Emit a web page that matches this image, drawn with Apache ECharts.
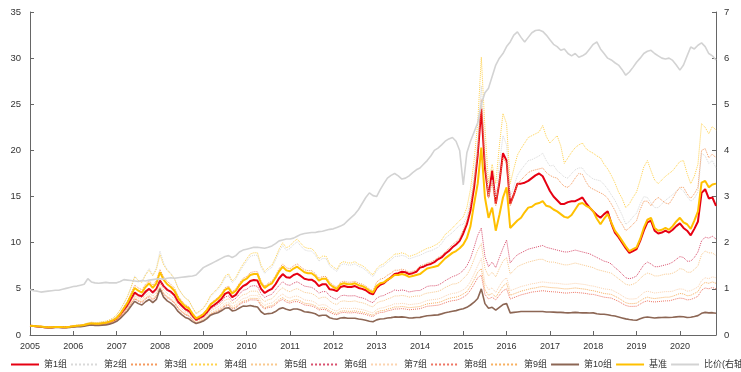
<!DOCTYPE html>
<html><head><meta charset="utf-8">
<script src="https://cdn.jsdelivr.net/npm/echarts@6/dist/echarts.min.js"></script>
<style>html,body{margin:0;padding:0;background:#fff}#c{width:741px;height:372px}</style>
</head><body><div id="c"></div>
<script>
// monthly observations starting Jan 2005
const startYear = 2005;
const seriesNames = ['第1组','第2组','第3组','第4组','第5组','第6组','第7组','第8组','第9组','第10组','基准','比价(右轴)'];
const yTicksLeft = [0,5,10,15,20,25,30,35];
const yTicksRight = [0,1,2,3,4,5,6,7];

const g1 = [
1.00,0.97,0.93,0.90,0.84,0.82,0.82,0.86,0.86,0.84,0.83,0.88,
0.93,0.97,0.99,1.05,1.16,1.21,1.17,1.17,1.22,1.27,1.38,1.52,
1.75,2.15,2.70,3.20,3.90,4.60,4.30,4.20,4.70,5.00,4.60,5.00,
5.90,5.30,4.90,4.70,4.30,3.60,3.20,2.80,2.60,2.10,1.65,1.85,
2.05,2.45,3.00,3.25,3.55,3.90,4.45,4.65,4.10,4.35,4.90,5.30,
5.50,5.85,5.95,5.90,5.00,4.55,4.80,5.00,5.50,6.15,6.60,6.25,
6.20,6.50,6.65,6.40,6.10,6.00,6.00,5.75,5.30,5.50,5.50,4.95,
4.90,4.75,5.20,5.30,5.20,5.20,5.30,5.10,5.00,4.85,4.55,4.40,
5.10,5.45,5.60,5.95,6.25,6.60,6.70,6.85,6.80,6.60,6.70,6.85,
7.30,7.40,7.60,7.70,7.90,8.20,8.40,8.80,9.10,9.50,9.80,10.2,
11.0,12.0,13.5,16.0,19.5,24.5,18.1,15.0,17.8,14.2,16.5,19.7,
18.9,14.2,15.2,16.4,16.4,16.5,16.7,17.0,17.3,17.5,17.2,16.4,
15.6,15.0,14.6,14.2,14.2,14.4,14.5,14.5,14.7,14.9,14.3,13.8,
13.4,13.0,12.7,13.1,13.4,12.1,11.1,10.6,10.0,9.4,8.9,9.1,
9.3,10.2,11.3,12.2,12.4,11.3,11.0,11.1,11.3,11.1,11.4,11.8,
12.1,11.6,11.3,10.8,11.5,12.3,15.4,15.8,14.8,14.9,14.0];

const g2 = [
1.00,0.98,0.95,0.93,0.88,0.86,0.86,0.90,0.90,0.88,0.88,0.93,
1.00,1.05,1.08,1.15,1.29,1.37,1.33,1.34,1.42,1.48,1.62,1.80,
2.15,2.70,3.40,4.15,5.15,6.40,5.90,5.80,6.60,7.20,6.50,7.30,
9.10,7.80,7.10,6.70,6.10,5.10,4.50,4.00,3.70,2.95,2.30,2.55,
2.84,3.40,4.16,4.54,4.92,5.42,6.18,6.43,5.67,6.05,6.81,7.44,
7.99,8.52,8.64,8.64,7.33,6.68,7.07,7.33,8.12,9.04,9.69,9.17,
9.37,9.80,10.1,9.64,9.23,9.10,9.10,8.69,8.01,8.28,8.28,7.47,
7.16,6.89,7.58,7.71,7.58,7.58,7.71,7.44,7.30,7.02,6.62,6.33,
6.95,7.33,7.47,7.86,8.12,8.52,8.52,8.64,8.52,8.25,8.38,8.52,
8.64,8.83,9.02,9.12,9.31,9.50,9.89,10.5,10.8,11.1,11.5,11.9,
12.0,12.9,14.6,17.3,21.0,27.0,20.3,15.0,16.8,14.9,18.5,21.6,
20.6,14.9,16.1,17.3,17.9,18.4,18.9,19.0,19.2,19.4,19.7,18.9,
18.3,18.4,17.8,17.5,17.1,17.0,17.5,17.9,18.1,18.1,17.5,17.2,
16.9,16.8,16.7,16.3,15.8,15.2,14.6,13.8,13.0,12.0,12.3,12.8,
13.2,14.2,15.0,14.9,14.3,13.8,13.8,14.2,14.6,14.9,15.2,15.6,
15.9,15.6,15.0,14.5,14.8,15.5,19.7,19.4,18.6,18.9,18.1];

const g3 = [
1.00,0.98,0.95,0.92,0.86,0.84,0.84,0.89,0.89,0.87,0.86,0.91,
0.98,1.02,1.04,1.11,1.24,1.30,1.26,1.26,1.33,1.38,1.51,1.67,
1.95,2.40,3.05,3.70,4.55,5.40,5.10,4.90,5.50,5.90,5.40,5.90,
7.10,6.30,5.80,5.50,5.10,4.25,3.70,3.30,3.05,2.40,1.90,2.10,
2.34,2.81,3.43,3.74,4.06,4.47,5.10,5.30,4.68,4.99,5.62,6.14,
6.34,6.76,6.86,6.86,5.82,5.30,5.62,5.82,6.45,7.18,7.70,7.28,
7.18,7.49,7.70,7.38,7.07,6.97,6.97,6.66,6.14,6.34,6.34,5.72,
5.41,5.20,5.72,5.82,5.72,5.72,5.82,5.62,5.51,5.30,4.99,4.78,
5.72,6.05,6.16,6.48,6.70,7.02,7.02,7.13,7.02,6.80,6.91,7.02,
7.50,7.60,7.80,7.90,8.10,8.40,8.60,9.00,9.40,9.80,10.1,10.5,
11.4,12.4,14.0,16.5,19.8,25.5,18.5,14.8,16.5,14.0,16.8,19.2,
18.6,14.0,15.2,16.3,16.8,17.2,17.6,17.8,17.9,18.0,18.1,17.6,
17.3,17.1,17.0,16.5,16.1,16.0,16.4,17.0,17.5,17.4,16.6,16.0,
15.8,15.6,15.4,15.2,14.8,14.2,13.5,12.6,12.0,11.3,11.6,12.0,
12.4,13.6,14.5,14.5,14.0,14.6,14.9,14.6,14.3,14.2,14.8,15.5,
16.0,16.0,15.3,14.8,15.3,16.0,20.0,20.2,19.2,19.6,19.2];

const g4 = [
1.00,0.98,0.95,0.93,0.88,0.86,0.86,0.91,0.91,0.89,0.89,0.94,
1.02,1.07,1.10,1.17,1.31,1.39,1.35,1.36,1.44,1.50,1.65,1.84,
2.20,2.75,3.45,4.20,5.20,6.30,5.90,5.70,6.50,7.00,6.40,7.10,
8.70,7.60,7.00,6.60,6.10,5.10,4.50,4.00,3.75,3.00,2.35,2.60,
2.93,3.51,4.29,4.68,5.07,5.59,6.37,6.63,5.85,6.24,7.02,7.67,
8.24,8.78,8.91,8.91,7.56,6.89,7.29,7.56,8.37,9.32,9.99,9.45,
9.66,10.1,10.4,9.94,9.52,9.38,9.38,8.96,8.26,8.54,8.54,7.70,
7.38,7.10,7.81,7.95,7.81,7.81,7.95,7.67,7.53,7.24,6.82,6.53,
7.16,7.56,7.70,8.10,8.37,8.78,8.78,8.91,8.78,8.51,8.64,8.78,
9.00,9.20,9.40,9.50,9.70,9.90,10.3,10.9,11.2,11.6,12.0,12.4,
12.8,13.8,15.8,18.9,23.0,30.1,22.5,16.5,18.5,16.4,20.5,24.0,
22.9,16.4,18.0,19.5,20.2,20.8,21.4,21.6,21.8,22.0,22.7,21.5,
20.8,21.2,21.6,20.5,18.6,19.2,19.8,20.3,20.6,20.8,20.2,19.9,
19.7,19.4,19.2,18.5,18.0,17.3,16.5,15.5,14.8,13.8,14.2,14.9,
15.5,16.8,18.2,18.9,17.8,16.8,16.4,16.8,17.2,17.5,17.8,18.3,
18.8,18.9,17.5,16.4,17.2,18.5,22.9,22.5,21.8,22.6,22.2];

const g5 = [
1.00,0.97,0.94,0.91,0.85,0.83,0.83,0.86,0.86,0.84,0.84,0.88,
0.92,0.96,0.98,1.03,1.13,1.18,1.14,1.14,1.19,1.23,1.34,1.47,
1.68,2.05,2.52,3.00,3.65,4.25,4.00,3.85,4.30,4.60,4.20,4.60,
5.55,4.90,4.50,4.25,3.90,3.25,2.85,2.50,2.35,1.85,1.48,1.63,
1.80,2.16,2.61,2.84,3.04,3.35,3.77,3.93,3.42,3.60,4.05,4.37,
4.45,4.75,4.75,4.75,3.98,3.62,3.83,3.92,4.34,4.83,5.11,4.83,
4.69,4.90,5.03,4.83,4.62,4.56,4.49,4.29,3.95,4.09,4.09,3.69,
3.43,3.30,3.63,3.70,3.63,3.63,3.70,3.56,3.50,3.37,3.17,3.04,
3.45,3.64,3.71,3.90,4.03,4.23,4.23,4.29,4.23,4.10,4.16,4.23,
4.22,4.42,4.54,4.60,4.66,4.73,4.90,5.15,5.33,5.52,5.55,5.73,
6.10,6.50,7.20,8.20,9.20,9.90,7.20,6.40,6.80,6.30,7.20,8.00,
8.40,6.60,7.00,7.40,7.60,7.75,7.90,8.00,8.10,8.20,8.20,8.00,
7.90,7.90,7.80,7.70,7.60,7.60,7.70,7.80,7.70,7.60,7.50,7.40,
7.30,7.10,7.00,6.90,6.80,6.70,6.40,6.10,5.80,5.50,5.40,5.50,
5.70,6.10,6.50,6.70,6.60,6.40,6.40,6.50,6.60,6.60,6.70,6.90,
7.20,7.10,6.80,6.80,7.10,7.50,8.70,9.10,8.90,8.90,8.60];

const g6 = [
1.00,0.97,0.94,0.91,0.85,0.83,0.83,0.87,0.87,0.85,0.84,0.88,
0.93,0.97,0.99,1.04,1.15,1.20,1.16,1.16,1.21,1.26,1.37,1.51,
1.72,2.10,2.60,3.10,3.80,4.45,4.20,4.05,4.55,4.90,4.50,4.90,
5.90,5.25,4.80,4.55,4.20,3.50,3.05,2.70,2.50,1.95,1.55,1.72,
1.94,2.32,2.81,3.06,3.32,3.61,4.12,4.23,3.74,3.98,4.43,4.84,
4.94,5.27,5.35,5.28,4.48,4.08,4.27,4.42,4.90,5.38,5.77,5.46,
5.38,5.62,5.77,5.54,5.30,5.23,5.16,4.93,4.54,4.70,4.70,4.24,
4.00,3.85,4.24,4.31,4.24,4.24,4.26,4.10,4.03,3.88,3.65,3.50,
3.98,4.20,4.28,4.50,4.65,4.88,4.81,4.88,4.81,4.66,4.74,4.81,
4.82,5.04,5.26,5.33,5.33,5.40,5.61,5.89,6.11,6.32,6.46,6.67,
7.00,7.50,8.30,9.50,10.8,11.6,8.50,7.40,7.90,7.30,8.40,9.40,
10.3,7.80,8.30,8.70,8.90,9.10,9.30,9.40,9.50,9.60,9.70,9.50,
9.40,9.30,9.20,9.10,9.00,9.00,9.10,9.20,9.10,9.00,8.90,8.80,
8.60,8.40,8.20,8.00,7.90,7.70,7.30,7.00,6.60,6.20,6.10,6.20,
6.40,7.00,7.60,7.90,7.70,7.40,7.40,7.50,7.60,7.70,7.90,8.20,
8.50,8.40,8.00,8.00,8.40,9.00,10.2,10.6,10.5,10.7,10.4];

const g7 = [
1.00,0.97,0.94,0.91,0.85,0.83,0.82,0.86,0.86,0.84,0.83,0.87,
0.91,0.95,0.97,1.02,1.12,1.16,1.12,1.12,1.17,1.21,1.31,1.44,
1.65,2.00,2.45,2.90,3.50,4.05,3.80,3.65,4.05,4.35,3.95,4.35,
5.25,4.60,4.20,3.95,3.60,3.00,2.62,2.30,2.15,1.70,1.36,1.50,
1.67,2.00,2.41,2.59,2.81,3.05,3.43,3.57,3.11,3.26,3.67,3.95,
4.03,4.29,4.29,4.29,3.58,3.21,3.40,3.47,3.78,4.21,4.44,4.13,
4.00,4.18,4.22,4.05,3.81,3.75,3.69,3.52,3.19,3.29,3.23,2.92,
2.70,2.60,2.86,2.91,2.86,2.86,2.91,2.81,2.76,2.65,2.50,2.39,
2.76,2.91,2.96,3.12,3.22,3.38,3.38,3.43,3.38,3.28,3.33,3.38,
3.43,3.59,3.74,3.80,3.85,3.90,4.03,4.23,4.39,4.50,4.55,4.70,
4.90,5.20,5.80,6.60,7.50,8.30,5.60,4.90,5.10,4.60,5.30,5.90,
6.20,4.80,4.95,5.10,5.25,5.35,5.45,5.55,5.60,5.70,5.75,5.70,
5.65,5.62,5.60,5.55,5.50,5.50,5.55,5.60,5.55,5.50,5.45,5.35,
5.30,5.20,5.10,5.00,4.95,4.90,4.70,4.50,4.25,4.00,3.90,3.90,
3.95,4.25,4.60,4.75,4.65,4.55,4.60,4.65,4.70,4.70,4.75,4.90,
5.00,4.95,4.75,4.80,5.00,5.20,5.90,6.20,6.10,6.30,6.20];

const g8 = [
1.00,0.97,0.93,0.90,0.84,0.82,0.81,0.85,0.85,0.83,0.82,0.86,
0.90,0.93,0.95,1.00,1.10,1.14,1.10,1.10,1.14,1.18,1.27,1.40,
1.60,1.94,2.36,2.80,3.38,3.90,3.65,3.50,3.88,4.15,3.78,4.15,
5.05,4.42,4.04,3.79,3.45,2.87,2.50,2.20,2.05,1.62,1.29,1.42,
1.57,1.86,2.22,2.38,2.56,2.77,3.11,3.23,2.82,2.94,3.29,3.53,
3.59,3.81,3.80,3.79,3.15,2.82,2.98,3.03,3.30,3.66,3.85,3.57,
3.45,3.60,3.62,3.47,3.26,3.20,3.14,2.99,2.71,2.78,2.73,2.47,
2.28,2.19,2.40,2.45,2.40,2.40,2.44,2.36,2.31,2.22,2.09,2.00,
2.30,2.43,2.47,2.61,2.69,2.82,2.82,2.86,2.81,2.73,2.77,2.81,
2.85,2.98,3.11,3.15,3.19,3.23,3.34,3.50,3.63,3.72,3.77,3.89,
4.10,4.35,4.85,5.50,6.20,6.50,4.40,3.90,4.10,3.80,4.30,4.80,
5.00,3.90,4.05,4.20,4.35,4.45,4.55,4.65,4.70,4.75,4.80,4.75,
4.70,4.68,4.65,4.60,4.55,4.55,4.60,4.62,4.58,4.55,4.50,4.42,
4.40,4.30,4.20,4.10,4.05,4.00,3.82,3.65,3.42,3.20,3.10,3.10,
3.12,3.35,3.58,3.70,3.62,3.58,3.62,3.66,3.70,3.70,3.80,3.92,
4.00,3.95,3.80,3.85,4.00,4.20,4.85,5.10,5.00,5.15,5.00];

const g9 = [
1.00,0.97,0.94,0.91,0.85,0.82,0.82,0.86,0.85,0.83,0.83,0.86,
0.91,0.94,0.96,1.01,1.11,1.15,1.11,1.11,1.15,1.19,1.29,1.42,
1.62,1.97,2.40,2.85,3.45,3.98,3.72,3.58,3.98,4.25,3.87,4.25,
5.15,4.50,4.12,3.87,3.52,2.93,2.55,2.25,2.10,1.66,1.32,1.46,
1.62,1.92,2.29,2.46,2.65,2.87,3.22,3.35,2.92,3.05,3.42,3.67,
3.74,3.97,3.97,3.96,3.30,2.95,3.12,3.18,3.46,3.85,4.05,3.76,
3.64,3.80,3.83,3.67,3.45,3.39,3.33,3.17,2.88,2.96,2.91,2.63,
2.43,2.34,2.57,2.62,2.57,2.57,2.62,2.53,2.48,2.39,2.25,2.15,
2.48,2.62,2.66,2.81,2.90,3.04,3.04,3.09,3.04,2.95,3.00,3.04,
3.09,3.23,3.37,3.42,3.47,3.51,3.63,3.81,3.95,4.05,4.10,4.23,
4.45,4.70,5.30,6.00,6.80,7.20,4.90,4.30,4.50,4.10,4.70,5.30,
5.60,4.30,4.45,4.60,4.75,4.85,4.95,5.05,5.10,5.20,5.25,5.20,
5.15,5.12,5.10,5.05,5.00,5.00,5.05,5.10,5.05,5.00,4.95,4.85,
4.80,4.70,4.60,4.50,4.45,4.40,4.20,4.00,3.75,3.50,3.40,3.40,
3.45,3.70,3.95,4.10,4.00,3.95,4.00,4.05,4.10,4.10,4.20,4.35,
4.50,4.45,4.25,4.30,4.50,4.70,5.40,5.70,5.60,5.75,5.60];

const g10 = [
1.00,0.96,0.92,0.89,0.83,0.80,0.79,0.83,0.82,0.80,0.79,0.82,
0.86,0.89,0.90,0.95,1.04,1.08,1.04,1.03,1.07,1.10,1.18,1.30,
1.48,1.80,2.20,2.60,3.15,3.65,3.40,3.25,3.60,3.85,3.50,3.85,
5.00,4.10,3.70,3.45,3.10,2.55,2.20,1.90,1.75,1.45,1.25,1.35,
1.51,1.78,2.15,2.30,2.42,2.62,2.89,2.96,2.61,2.69,2.92,3.13,
3.11,3.19,3.10,3.04,2.52,2.24,2.32,2.35,2.54,2.83,2.96,2.80,
2.69,2.81,2.81,2.70,2.52,2.48,2.41,2.30,2.07,2.14,2.14,1.87,
1.77,1.70,1.85,1.88,1.82,1.81,1.82,1.73,1.68,1.60,1.49,1.43,
1.64,1.74,1.76,1.84,1.88,1.96,1.94,1.96,1.92,1.84,1.86,1.89,
1.91,2.00,2.09,2.12,2.15,2.18,2.29,2.41,2.49,2.58,2.64,2.76,
2.85,3.00,3.25,3.55,3.95,5.00,3.40,2.90,3.00,2.70,3.00,3.30,
3.40,2.40,2.45,2.50,2.55,2.55,2.55,2.55,2.55,2.55,2.55,2.50,
2.50,2.48,2.45,2.45,2.42,2.40,2.42,2.45,2.42,2.40,2.40,2.38,
2.40,2.30,2.25,2.25,2.20,2.12,2.05,1.95,1.85,1.75,1.68,1.62,
1.60,1.75,1.90,1.95,1.90,1.85,1.88,1.90,1.92,1.90,1.92,1.96,
2.00,1.98,1.90,1.92,2.00,2.10,2.35,2.45,2.40,2.42,2.35];

const bench = [
1.00,0.98,0.95,0.92,0.86,0.84,0.84,0.88,0.88,0.86,0.85,0.90,
0.96,1.00,1.02,1.08,1.20,1.26,1.22,1.22,1.28,1.33,1.45,1.60,
1.85,2.30,2.90,3.50,4.30,5.10,4.80,4.60,5.20,5.60,5.10,5.60,
6.80,6.00,5.50,5.20,4.80,4.00,3.50,3.10,2.90,2.30,1.80,2.00,
2.25,2.70,3.30,3.60,3.90,4.30,4.90,5.10,4.50,4.80,5.40,5.90,
6.10,6.50,6.60,6.60,5.60,5.10,5.40,5.60,6.20,6.90,7.40,7.00,
6.90,7.20,7.40,7.10,6.80,6.70,6.70,6.40,5.90,6.10,6.10,5.50,
5.20,5.00,5.50,5.60,5.50,5.50,5.60,5.40,5.30,5.10,4.80,4.60,
5.30,5.60,5.70,6.00,6.20,6.50,6.50,6.60,6.50,6.30,6.40,6.50,
6.60,6.90,7.20,7.30,7.40,7.50,7.90,8.30,8.60,8.90,9.10,9.40,
9.80,10.5,11.8,14.2,16.4,20.3,14.9,12.7,13.8,11.3,13.0,14.9,
16.0,11.6,12.0,12.4,12.7,13.3,13.8,13.9,14.2,14.3,14.5,14.0,
13.9,13.6,13.4,13.1,12.8,12.7,13.0,13.6,14.2,14.3,14.0,13.8,
13.4,12.6,12.0,12.6,13.1,12.2,11.3,10.8,10.2,9.6,9.1,9.3,
9.5,10.4,11.6,12.5,12.7,11.6,11.3,11.4,11.6,11.4,11.8,12.3,
12.7,12.2,12.0,11.5,12.4,13.4,16.5,16.7,16.0,16.3,16.4];

// right axis
const ratio = [
0.98,0.96,0.95,0.93,0.94,0.95,0.96,0.97,0.97,0.99,1.01,1.03,
1.05,1.06,1.08,1.10,1.22,1.15,1.13,1.12,1.13,1.14,1.13,1.13,
1.13,1.16,1.20,1.19,1.18,1.17,1.16,1.18,1.17,1.19,1.20,1.21,
1.22,1.21,1.23,1.24,1.23,1.24,1.25,1.26,1.27,1.28,1.30,1.38,
1.46,1.50,1.54,1.58,1.62,1.66,1.70,1.72,1.68,1.72,1.80,1.84,
1.86,1.88,1.90,1.90,1.89,1.88,1.90,1.93,1.98,2.04,2.06,2.08,
2.08,2.10,2.14,2.18,2.20,2.21,2.22,2.22,2.24,2.25,2.27,2.29,
2.30,2.33,2.36,2.40,2.48,2.55,2.62,2.72,2.85,2.98,3.08,3.02,
3.00,3.15,3.28,3.40,3.46,3.50,3.45,3.38,3.40,3.45,3.52,3.58,
3.62,3.70,3.78,3.88,4.00,4.05,4.12,4.20,4.25,4.28,4.20,4.00,
3.25,3.95,4.20,4.40,4.60,5.00,5.25,5.35,5.60,5.85,6.00,6.10,
6.25,6.35,6.50,6.57,6.45,6.35,6.45,6.55,6.60,6.61,6.58,6.50,
6.40,6.30,6.25,6.17,6.20,6.10,6.05,6.10,6.02,6.05,6.10,6.20,
6.30,6.35,6.20,6.10,6.00,5.96,5.90,5.85,5.75,5.63,5.70,5.80,
5.91,6.00,6.10,6.15,6.17,6.10,6.05,6.00,5.98,6.00,5.95,5.85,
5.74,5.85,6.05,6.24,6.20,6.28,6.33,6.25,6.10,6.05,5.96];

const allData = [g1,g2,g3,g4,g5,g6,g7,g8,g9,g10,bench,ratio];
const N = g1.length;
allData.forEach((a,i)=>{ if(a.length!==N) throw new Error('length mismatch '+seriesNames[i]+' '+a.length+' vs '+N); });
const dates = g1.map((_, i) => startYear + i / 12);
const xMax = dates[N - 1];

const styles = [
  {color:'#e60012', width:2, type:'solid'},
  {color:'#d9d9d9', width:1, type:'dotted'},
  {color:'#f59a5e', width:1, type:'dotted'},
  {color:'#ffd24d', width:1, type:'dotted'},
  {color:'#f9c98e', width:1, type:'dotted'},
  {color:'#d9506e', width:1, type:'dotted'},
  {color:'#fcd3b0', width:1, type:'dotted'},
  {color:'#ee7563', width:1, type:'dotted'},
  {color:'#f8b060', width:1, type:'dotted'},
  {color:'#8c6654', width:1.6, type:'solid'},
  {color:'#ffc000', width:2, type:'solid'},
  {color:'#d3d3d3', width:1.6, type:'solid'}
];

const series = allData.map((arr, i) => ({
  name: seriesNames[i],
  type: 'line',
  yAxisIndex: i === 11 ? 1 : 0,
  showSymbol: false,
  symbol: 'none',
  data: arr.map((v, k) => [dates[k], v]),
  lineStyle: {color: styles[i].color, width: styles[i].width, type: styles[i].type},
  itemStyle: {color: styles[i].color},
  emphasis: {disabled: true}
}));

const axisColor = '#666';
const font = 'Liberation Sans, Arial, Noto Sans CJK SC, sans-serif';
const chart = echarts.init(document.getElementById('c'), null, {renderer: 'canvas'});
chart.setOption({
  animation: false,
  backgroundColor: '#fff',
  textStyle: {fontFamily: font},
  grid: {left: 30, right: 25, top: 12, bottom: 37},
  legend: {
    data: seriesNames,
    left: 5, top: 355, width: 1000,
    itemWidth: 28, itemHeight: 8, itemGap: 3,
    itemStyle: {opacity: 0, borderWidth: 0},
    textStyle: {fontSize: 9, color: '#333', fontFamily: font}
  },
  xAxis: {
    type: 'value', min: startYear, max: xMax, interval: 1,
    axisLine: {lineStyle: {color: axisColor}},
    axisTick: {inside: true, length: 4, lineStyle: {color: axisColor}},
    axisLabel: {fontSize: 9, color: '#333', margin: 7, showMaxLabel: false,
      formatter: v => (Math.abs(v - Math.round(v)) < 1e-6 ? String(Math.round(v)) : '')},
    splitLine: {show: false}
  },
  yAxis: [
    {type: 'value', min: yTicksLeft[0], max: yTicksLeft[yTicksLeft.length-1], interval: 5,
     axisLine: {show: true, lineStyle: {color: axisColor}},
     axisTick: {show: true, inside: true, length: 4, lineStyle: {color: axisColor}},
     axisLabel: {fontSize: 9.5, color: '#333', margin: 9},
     splitLine: {show: false}},
    {type: 'value', min: yTicksRight[0], max: yTicksRight[yTicksRight.length-1], interval: 1, position: 'right',
     axisLine: {show: true, lineStyle: {color: axisColor}},
     axisTick: {show: true, inside: true, length: 4, lineStyle: {color: axisColor}},
     axisLabel: {fontSize: 9.5, color: '#333', margin: 8},
     splitLine: {show: false}},
  ],
  series: series
});
</script>
</body></html>
